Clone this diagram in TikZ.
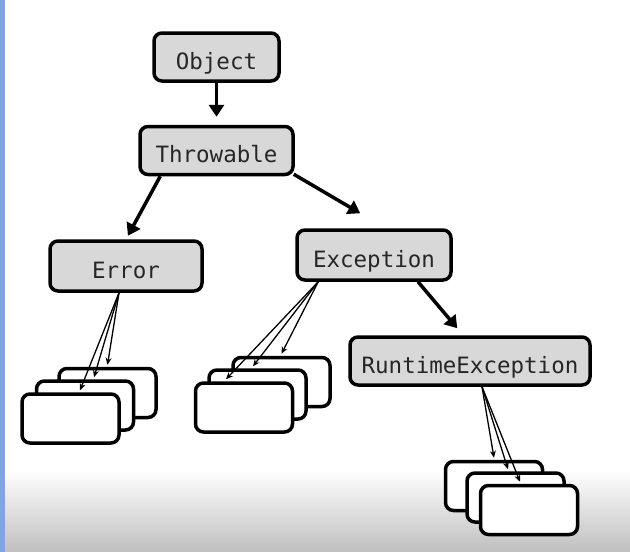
\documentclass[tikz,border=0pt]{standalone}
\usepackage{fontspec}
\setmonofont{DejaVu Sans Mono}
\usepackage{tikz}
\usetikzlibrary{arrows.meta,positioning}
\definecolor{barblue}{RGB}{128,166,226}
\definecolor{boxgray}{RGB}{216,216,216}

\begin{document}
\begin{tikzpicture}[x=1pt, y=1pt,
    cls/.style={draw, line width=3.5pt, rounded corners=8pt, fill=boxgray, inner sep=0pt,
        minimum height=48pt, text height=25pt, text depth=0.6pt,
        font=\ttfamily\fontsize{22.5}{27}\selectfont, text=black!85},
    sub/.style={draw, line width=3.5pt, rounded corners=8pt, fill=white, inner sep=0pt,
        minimum width=97pt, minimum height=49pt},
    bigarrow/.style={line width=3.5pt, -{Triangle[length=12pt,width=15pt]}},
    smallarrow/.style={line width=1.3pt, -{Stealth[length=7pt,width=6pt]}}]
    \useasboundingbox (0,0) rectangle (630,-552);

    % Background
    \fill[white] (0,0) rectangle (630,-552);
    \shade[top color=white, middle color=black!7, bottom color=black!25] (0,-470) rectangle (630,-552);
    \fill[barblue] (0,0) rectangle (4.5,-552);

    % Class hierarchy
    \node[cls, minimum width=125pt] (obj) at (216.5,-57) {Object};
    \node[cls, minimum width=153pt] (thr) at (216.5,-150.5) {Throwable};
    \node[cls, minimum width=152pt, minimum height=50pt] (err) at (126,-266) {Error};
    \node[cls, minimum width=154pt, minimum height=50pt] (exc) at (374,-255) {Exception};
    \node[cls, minimum width=240pt] (rte) at (470,-361) {RuntimeException};

    % Subclasses of Error
    \node[sub] (errA) at (107.5,-393) {};
    \node[sub] (errB) at (85,-405.5) {};
    \node[sub] (errC) at (70.5,-418.5) {};

    % Subclasses of Exception
    \node[sub] (excA) at (281.5,-382) {};
    \node[sub] (excB) at (257.5,-394.5) {};
    \node[sub] (excC) at (244,-407.5) {};

    % Subclasses of RuntimeException
    \node[sub] (rteA) at (494,-486) {};
    \node[sub] (rteB) at (515.5,-497.5) {};
    \node[sub] (rteC) at (529,-510) {};

    % Inheritance arrows
    \draw[bigarrow, shorten >=8pt] (obj) -- (thr);
    \draw[bigarrow, shorten >=4pt] ([xshift=22pt]thr.south west) -- (err.north);
    \draw[bigarrow] ([xshift=-1pt,yshift=2pt]thr.south east) -- ([xshift=65pt,yshift=15pt]exc.north west);
    \draw[bigarrow] ([xshift=44pt]exc.south) -- ([xshift=109pt,yshift=7pt]rte.north west);

    % Arrows to subclasses
    \draw[smallarrow] ([xshift=-7pt]err.south) -- ([yshift=2pt]errA.north);
    \draw[smallarrow] ([xshift=-7pt]err.south) -- ([xshift=9pt,yshift=2pt]errB.north);
    \draw[smallarrow] ([xshift=-7pt]err.south) -- ([xshift=9.5pt,yshift=2pt]errC.north);

    \draw[smallarrow] ([xshift=23pt]exc.south west) -- ([yshift=2pt]excA.north);
    \draw[smallarrow] ([xshift=23pt]exc.south west) -- ([xshift=-4.5pt,yshift=2pt]excB.north);
    \draw[smallarrow] ([xshift=23pt]exc.south west) -- ([xshift=-18pt,yshift=2pt]excC.north);

    \draw[smallarrow] ([xshift=12pt]rte.south) -- ([yshift=2pt]rteA.north);
    \draw[smallarrow] ([xshift=12pt]rte.south) -- ([xshift=-7.5pt,yshift=2pt]rteB.north);
    \draw[smallarrow] ([xshift=12pt]rte.south) -- ([xshift=-9pt,yshift=2pt]rteC.north);

\end{tikzpicture}
\end{document}
